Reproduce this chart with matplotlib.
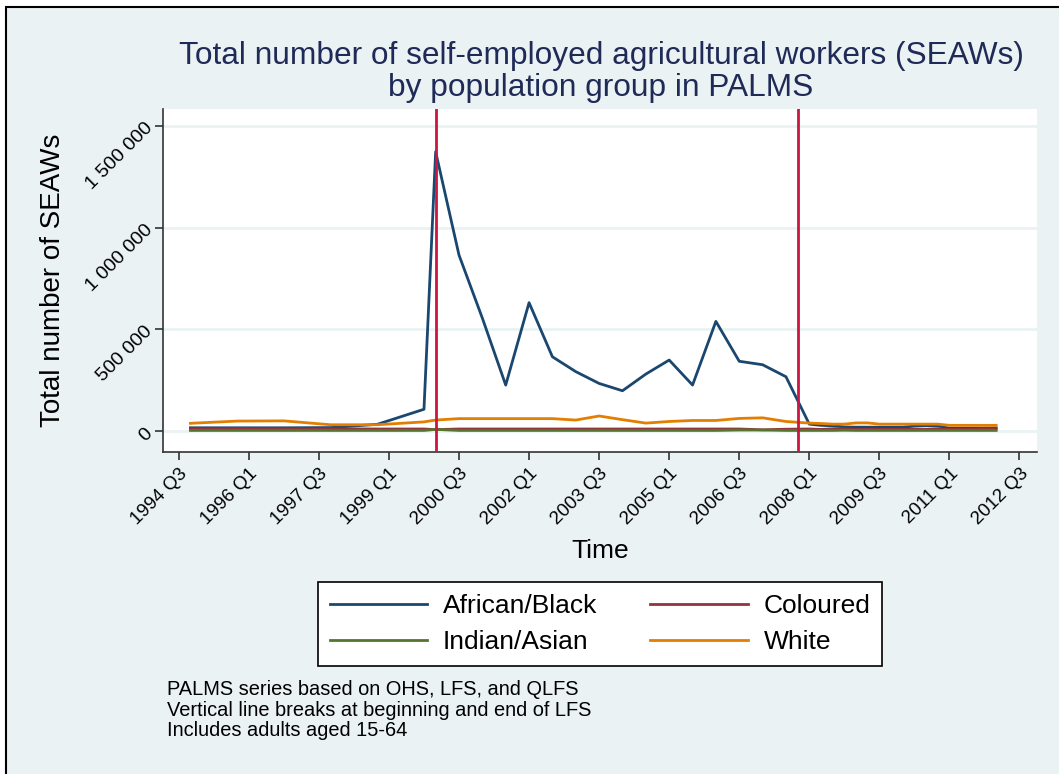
import numpy as np
import matplotlib
matplotlib.use("Agg")
import matplotlib.pyplot as plt
from matplotlib.patches import Rectangle
from matplotlib.ticker import FuncFormatter

plt.rcParams['font.family'] = ['Liberation Sans', 'DejaVu Sans']

# survey periods: OHS (annual), LFS (bi-annual), QLFS (quarterly)
periods = ["1994Q4", "1995Q4", "1996Q4", "1997Q4", "1998Q4", "1999Q4",
           "2000Q1", "2000Q3", "2001Q1", "2001Q3", "2002Q1", "2002Q3",
           "2003Q1", "2003Q3", "2004Q1", "2004Q3", "2005Q1", "2005Q3",
           "2006Q1", "2006Q3", "2007Q1", "2007Q3",
           "2008Q1", "2008Q2", "2008Q3", "2008Q4", "2009Q1", "2009Q2",
           "2009Q3", "2009Q4", "2010Q1", "2010Q2", "2010Q3", "2010Q4",
           "2011Q1", "2011Q2", "2011Q3", "2011Q4", "2012Q1"]

african = [16000, 16000, 16000, 17000, 33000, 107000,
           1373000, 865000, 555000, 226000, 631000, 365000,
           292000, 234000, 198000, 280000, 349000, 226000,
           539000, 343000, 326000, 267000,
           34000, 28000, 26000, 20000, 19000, 19000,
           19000, 19000, 19000, 24000, 26000, 25000,
           14000, 14000, 14000, 14000, 15000]

coloured = [11000, 12000, 11000, 11000, 10000, 10000,
            7000, 10000, 10000, 10000, 10000, 10000,
            10000, 10000, 10000, 10000, 10000, 10000,
            10000, 10000, 6000, 9000,
            10000, 8000, 11000, 11000, 8000, 8000,
            8000, 8000, 8000, 8000, 8000, 11000,
            8000, 8000, 8000, 11000, 11000]

indian = [3000, 3000, 3000, 3000, 3000, 3000,
          8000, 3000, 3000, 3000, 3000, 3000,
          3000, 3000, 3000, 3000, 3000, 3000,
          3000, 5000, 5000, 3000,
          3000, 3000, 3000, 4000, 3000, 3000,
          3000, 3000, 3000, 3000, 3000, 3000,
          3000, 3000, 3000, 3000, 3000]

white = [38000, 49000, 50000, 31000, 31000, 45000,
         54000, 61000, 61000, 61000, 61000, 61000,
         54000, 74000, 56000, 39000, 47000, 52000,
         52000, 62000, 65000, 47000,
         39000, 37000, 34000, 34000, 40000, 40000,
         34000, 34000, 34000, 34000, 34000, 34000,
         28000, 28000, 28000, 28000, 28000]

lfs_breaks = ["2000Q1", "2007Q4"]


def qindex(p):
    # quarters since 1994 Q3
    return (int(p[:4]) - 1994) * 4 + int(p[-1]) - 3


t = np.array([qindex(p) for p in periods])

bg = '#eaf2f3'
fig = plt.figure(figsize=(10.59, 7.74), dpi=100, facecolor='white')
fig.patches.append(Rectangle((6 / 1059, -0.1), 1.2, 1.1 - 7 / 774,
                             transform=fig.transFigure, facecolor=bg,
                             edgecolor='black', linewidth=1.5, zorder=-10))

ax = fig.add_axes([163 / 1059, 1 - 452 / 774, (1037 - 163) / 1059, (452 - 109) / 774])
ax.set_facecolor('white')

l1, = ax.plot(t, african, color='#1a476f', lw=2, label='African/Black', zorder=3)
l2, = ax.plot(t, coloured, color='#90353b', lw=2, label='Coloured', zorder=3)
l3, = ax.plot(t, indian, color='#55752f', lw=2, label='Indian/Asian', zorder=3)
l4, = ax.plot(t, white, color='#e37e00', lw=2, label='White', zorder=3)
for b in lfs_breaks:
    ax.axvline(qindex(b), color='#cc1540', lw=2, zorder=4)

ax.set_xlim(-1.35, 73.5)
ax.set_ylim(-103000, 1583000)
ax.set_yticks([0, 500000, 1000000, 1500000])
ax.yaxis.set_major_formatter(FuncFormatter(lambda v, pos: f"{int(v):,}".replace(",", " ")))
xt = np.arange(0, 73, 6)
ax.set_xticks(xt)
ax.set_xticklabels([f"{1994 + (k + 2) // 4} Q{(k + 2) % 4 + 1}" for k in xt])
ax.grid(axis='y', color=bg, lw=2)
ax.set_axisbelow(True)
for s in ['top', 'right']:
    ax.spines[s].set_visible(False)
for s in ['left', 'bottom']:
    ax.spines[s].set_color('#333333')
    ax.spines[s].set_linewidth(1.2)
ax.tick_params(axis='x', direction='out', length=6, width=1.2, color='#333333', labelsize=13.5)
ax.tick_params(axis='y', direction='out', length=6, width=1.2, color='#333333', labelsize=14)
plt.setp(ax.get_xticklabels(), rotation=45, ha='right', rotation_mode='anchor')
plt.setp(ax.get_yticklabels(), rotation=45, ha='right', va='center', rotation_mode='anchor')

ax.set_xlabel('Time', fontsize=19, labelpad=8)
ax.set_ylabel('Total number of SEAWs', fontsize=20, labelpad=12)

fig.text(601 / 1059, 1 - 72 / 774,
         "Total number of self-employed agricultural workers (SEAWs)\nby population group in PALMS",
         ha='center', va='center', fontsize=22.8, color='#1f2a57', linespacing=1.07)

# legend filled column by column, so order handles to read row-wise
leg = fig.legend([l1, l3, l2, l4], ['African/Black', 'Indian/Asian', 'Coloured', 'White'],
                 loc='center', bbox_to_anchor=(600 / 1059, 1 - 624 / 774), ncol=2,
                 fontsize=19, handlelength=3.7, handletextpad=0.6, columnspacing=2.0,
                 frameon=True, fancybox=False, edgecolor='black', framealpha=1,
                 borderpad=0.45, labelspacing=0.45)
leg.get_frame().set_linewidth(1.2)
leg.get_frame().set_facecolor('white')

fig.text(167 / 1059, 1 - 680 / 774,
         "PALMS series based on OHS, LFS, and QLFS\nVertical line breaks at beginning and end of LFS\nIncludes adults aged 15-64",
         ha='left', va='top', fontsize=14.4, color='black', linespacing=1.1)

fig.savefig('out.png', dpi=100, facecolor=fig.get_facecolor())
